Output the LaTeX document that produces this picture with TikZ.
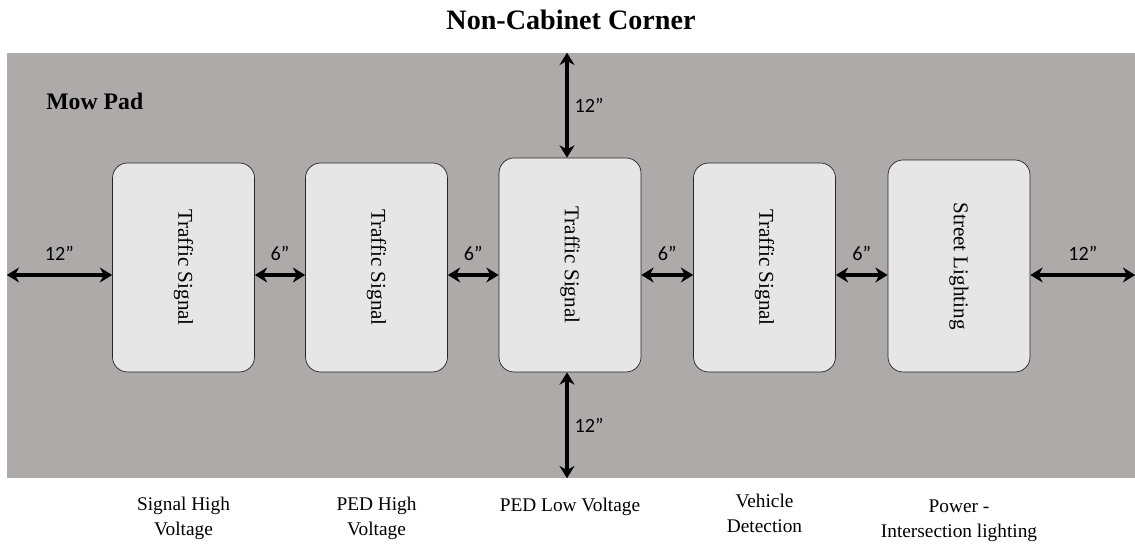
\documentclass[tikz,border=0pt]{standalone}
\usepackage{fontspec}
\setmainfont{Liberation Serif}
\newfontfamily\dimfont{Carlito}
\usetikzlibrary{arrows.meta}

\definecolor{padgray}{HTML}{AEAAAA}
\definecolor{slotgray}{HTML}{E7E6E6}

\tikzset{
  pad/.style={fill=padgray, draw=none, minimum width=22.56cm, minimum height=8.5cm, inner sep=0pt},
  slot/.style={draw=black!85, fill=slotgray, rounded corners=0.3cm, minimum width=2.84cm, inner sep=0pt},
  gap/.style={line width=1.9pt, {Stealth[length=7pt,width=8.5pt]}-{Stealth[length=7pt,width=8.5pt]}},
  dim/.style={font=\dimfont\fontsize{11.5}{13}\selectfont},
  purpose/.style={align=center, inner sep=0pt, anchor=base, font=\fontsize{11}{14.5}\selectfont}
}

\begin{document}
\begin{tikzpicture}[x=0.02cm, y=-0.02cm]
    \useasboundingbox (0,0) rectangle (1135,546); % keep the page size

    % Mow pad and titles
    \node[pad] (pad) at (571,265.5) {};
    \node[font=\bfseries\fontsize{16}{18}\selectfont, anchor=base] (title) at (571,30) {Non-Cabinet Corner};
    \node[font=\bfseries\fontsize{13.5}{15}\selectfont, anchor=base west, inner sep=0pt] (mow) at (46,110) {Mow Pad};

    % Boxes on the pad (x, y, height)
    \foreach \i/\x/\y/\h/\txt in {1/183.5/267.5/4.18/Traffic Signal, 2/376.5/267.5/4.18/Traffic Signal,
        3/570/265/4.28/Traffic Signal, 4/764.5/267.5/4.18/Traffic Signal, 5/959/266/4.24/Street Lighting} {
        \node[slot, minimum height=\h cm,
              label={[rotate=-90, font=\fontsize{12}{14}\selectfont]center:\txt}] (box\i) at (\x,\y) {};
    }

    % Spacing arrows
    \coordinate (mid) at (0,275);
    \draw[gap] (pad.west |- mid) -- (box1.west |- mid) node[midway, above=4pt, dim] {12”};
    \foreach \a/\b in {1/2, 2/3, 3/4, 4/5} {
        \draw[gap] (box\a.east |- mid) -- (box\b.west |- mid) node[midway, above=4pt, dim] {6”};
    }
    \draw[gap] (box5.east |- mid) -- (pad.east |- mid) node[midway, above=4pt, dim] {12”};
    \draw[gap] ([xshift=-0.06cm]box3 |- pad.north) -- ([xshift=-0.06cm]box3.north) node[midway, right, dim] {12”};
    \draw[gap] ([xshift=-0.06cm]box3.south) -- ([xshift=-0.06cm]box3 |- pad.south) node[midway, right, dim] {12”};

    % What each box carries (y = baseline of last line)
    \foreach \i/\y/\txt in {1/536/{Signal High\\Voltage}, 2/536/{PED High\\Voltage}, 3/512/{PED Low Voltage},
        4/533/{Vehicle\\Detection}, 5/538/{Power -\\Intersection lighting}} {
        \node[purpose] (use\i) at (box\i |- 0,\y) {\txt};
    }
\end{tikzpicture}
\end{document}
